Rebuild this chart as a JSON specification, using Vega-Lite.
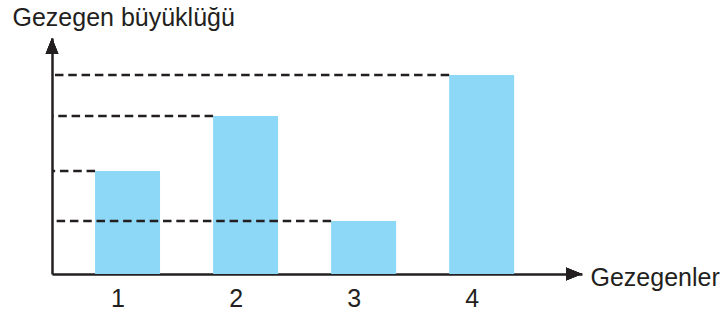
{
  "$schema": "https://vega.github.io/schema/vega-lite/v6.json",
  "width": 530,
  "height": 236,
  "autosize": {"type": "none"},
  "padding": {"left": 52, "top": 38, "right": 144, "bottom": 42},
  "background": "white",
  "config": {"view": {"stroke": null}, "font": "Liberation Sans"},
  "data": {"values": [
    {"planet": 1, "value": 103},
    {"planet": 2, "value": 158},
    {"planet": 3, "value": 53},
    {"planet": 4, "value": 199}
  ]},
  "layer": [
    {
      "mark": {"type": "bar", "width": 65, "color": "#8dd8f6"},
      "encoding": {
        "x": {"field": "planet", "type": "quantitative",
          "scale": {"domain": [0.36, 4.85], "nice": false, "zero": false, "padding": 0},
          "axis": {"values": [1, 2, 3, 4], "format": "d", "ticks": false, "tickSize": 0, "grid": false,
            "domainColor": "#231f20", "domainWidth": 2.5,
            "labelFontSize": 25, "labelColor": "#231f20", "labelPadding": 32, "labelOffset": -10,
            "labelBaseline": "alphabetic", "labelFlush": false,
            "title": "Gezegenler", "titleX": 538, "titleY": 11, "titleAlign": "left",
            "titleBaseline": "alphabetic", "titleFontSize": 25, "titleFontWeight": "normal",
            "titleColor": "#231f20"}},
        "y": {"field": "value", "type": "quantitative",
          "scale": {"domain": [0, 236], "nice": false, "padding": 0},
          "axis": {"ticks": false, "labels": false, "grid": false,
            "domainColor": "#231f20", "domainWidth": 2.5,
            "title": "Gezegen büyüklüğü", "titleAngle": 0, "titleX": -40, "titleY": -13,
            "titleAlign": "left", "titleBaseline": "alphabetic", "titleFontSize": 25,
            "titleFontWeight": "normal", "titleColor": "#231f20"}}
      }
    },
    {
      "mark": {"type": "rule", "strokeDash": [8.5, 4.8], "strokeWidth": 2.3, "color": "#231f20", "xOffset": -32.5},
      "encoding": {
        "x": {"field": "planet", "type": "quantitative"},
        "x2": {"datum": 0.36},
        "y": {"field": "value", "type": "quantitative"}
      }
    },
    {
      "mark": {"type": "point", "shape": "M0,0 L-2,-0.8 L-2,0.8 Z", "size": 256, "filled": true, "color": "#231f20", "opacity": 1},
      "encoding": {
        "x": {"datum": 4.85, "type": "quantitative"},
        "y": {"datum": 0, "type": "quantitative"}
      }
    },
    {
      "mark": {"type": "point", "shape": "M0,0 L-0.8,2 L0.8,2 Z", "size": 256, "filled": true, "color": "#231f20", "opacity": 1},
      "encoding": {
        "x": {"datum": 0.36, "type": "quantitative"},
        "y": {"datum": 236, "type": "quantitative"}
      }
    }
  ]
}
